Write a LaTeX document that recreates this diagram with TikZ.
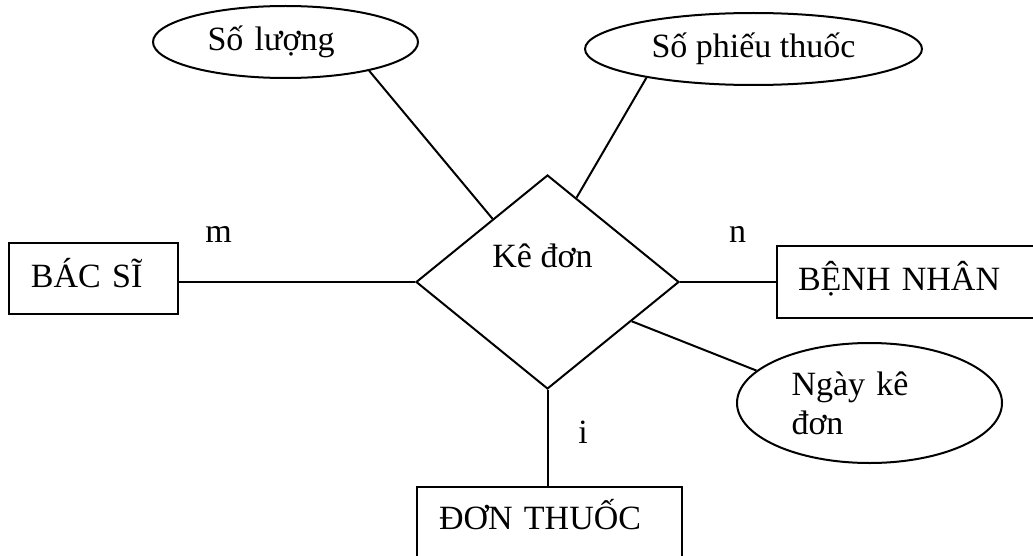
\documentclass[tikz,border=0pt]{standalone}
\usepackage{fontspec}
\setmainfont{Liberation Serif}
\usetikzlibrary{shapes.geometric}

\begin{document}
\begin{tikzpicture}[x=0.5pt,y=-0.5pt,
  line width=1pt,
  every node/.style={font=\fontsize{17}{19.5}\selectfont},
  entnode/.style={draw,rectangle,inner sep=0pt,align=left,text height=12pt,text depth=3.5pt},
  relnode/.style={draw,diamond,inner sep=0pt,minimum width=131.5pt,minimum height=107pt},
  attrnode/.style={draw,ellipse,inner sep=0pt,align=left}
  ]
  \useasboundingbox (0,0) rectangle (1033,556);
  \clip (0,0) rectangle (1033,556);

  % the entities
  \node[entnode,minimum width=84.5pt,minimum height=35.5pt,text width=62.5pt] (bacsi) at (93.5,278.5) {BÁC SĨ};
  \node[entnode,minimum width=134pt,minimum height=36pt,text width=113pt] (benhnhan) at (911,282) {BỆNH NHÂN};
  \node[entnode,minimum width=132.5pt,minimum height=42pt,text width=110.5pt,text depth=12pt] (donthuoc) at (549.5,529) {ĐƠN THUỐC};

  % the relationship
  \node[relnode] (kedon) at (547.5,282) {};
  \node[anchor=base] (kedonlbl) at (542.5,267) {Kê đơn};

  % the attributes
  \node[attrnode,minimum width=132.5pt,minimum height=36pt,text width=78pt] (soluong) at (285.5,42) {Số lượng};
  \node[attrnode,minimum width=168.5pt,minimum height=36pt] (sophieu) at (753.5,49) {Số phiếu thuốc};
  \node[attrnode,minimum width=132.5pt,minimum height=60pt,text width=78pt] (ngayke) at (869.5,403) {Ngày kê\\đơn};

  % the links
  \draw (bacsi.east |- kedon.west) -- (kedon.west);
  \draw (kedon.east) -- (kedon.east -| benhnhan.west);
  \draw (kedon.south) -- (kedon.south |- donthuoc.north);
  \draw (soluong.-19) -- (kedon.131);
  \draw (sophieu.-165) -- (kedon.71);
  \draw (kedon.-25) -- (ngayke.164);

  % the cardinalities
  \node[anchor=base] (mlbl) at (218.5,242) {m};
  \node[anchor=base] (nlbl) at (737.5,242) {n};
  \node[anchor=base] (ilbl) at (583,443) {i};
\end{tikzpicture}
\end{document}
